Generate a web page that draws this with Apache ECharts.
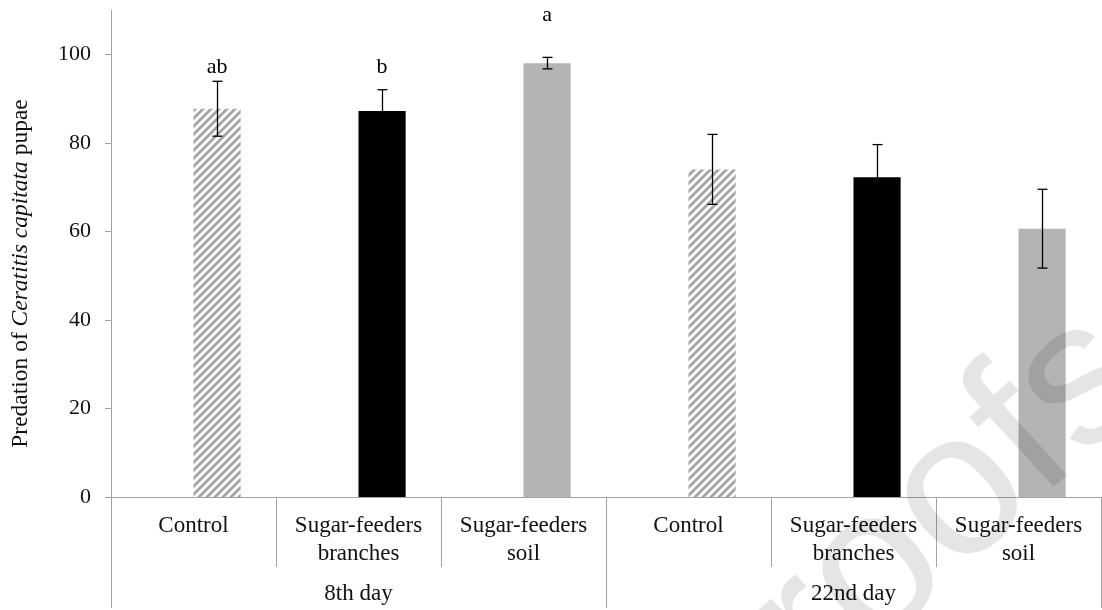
<!DOCTYPE html>
<html>
<head>
<meta charset="utf-8">
<script src="https://cdn.jsdelivr.net/npm/echarts@6/dist/echarts.min.js"></script>
<style>
  html, body { margin: 0; padding: 0; background: #fff; }
  #chart { width: 1102px; height: 610px; }
</style>
</head>
<body>
<div id="chart"></div>
<script>
// Treatments on the lower axis, grouped by sampling day
const treatments = ['Control', 'Sugar-feeders branches', 'Sugar-feeders soil',
                    'Control', 'Sugar-feeders branches', 'Sugar-feeders soil'];
const days = ['8th day', '22nd day'];

// Mean predation (%) and standard error for each treatment
const predation = [87.7, 87.2, 98.0, 74.0, 72.2, 60.6];
const stdError  = [6.2, 4.8, 1.3, 7.9, 7.4, 8.9];

// Significance letters and the value level where each letter sits
const letters      = ['ab', 'b', 'a', '', '', ''];
const letterLevels = [94.6, 94.6, 106.3, null, null, null];

const yTicks = [0, 20, 40, 60, 80, 100];

const SERIF = '"Liberation Serif", "Times New Roman", serif';
const AXIS_GREY = '#a3a3a3';

// Diagonal hatch tile for the control bars
function hatchTile() {
  const c = document.createElement('canvas');
  c.width = 8; c.height = 8;
  const g = c.getContext('2d');
  g.fillStyle = '#ffffff';
  g.fillRect(0, 0, 8, 8);
  g.strokeStyle = '#a4a4a4';
  g.lineWidth = 2.8;
  g.beginPath();
  g.moveTo(-2, 10); g.lineTo(10, -2);
  g.moveTo(-3, 3);  g.lineTo(3, -3);
  g.moveTo(5, 11);  g.lineTo(11, 5);
  g.stroke();
  return c;
}
const hatch = { image: hatchTile(), repeat: 'repeat' };

function fillFor(name) {
  if (name === 'Control') return hatch;
  if (name === 'Sugar-feeders branches') return '#000000';
  return '#b4b4b4';
}

// bar sits in the right half of a two-slot cluster: offset = category width / 7
function barOffset(api) { return api.size([1, 0])[0] / 7; }

function renderErrorBar(params, api) {
  const i = api.value(0), m = api.value(1), e = api.value(2);
  const top = api.coord([i, m + e]);
  const bot = api.coord([i, m - e]);
  const x = Math.round(top[0] + barOffset(api)) + 0.5;
  const cap = 5;
  const st = { stroke: '#000', lineWidth: 1.3 };
  return {
    type: 'group',
    children: [
      { type: 'line', shape: { x1: x, y1: top[1], x2: x, y2: bot[1] }, style: st },
      { type: 'line', shape: { x1: x - cap, y1: top[1], x2: x + cap, y2: top[1] }, style: st },
      { type: 'line', shape: { x1: x - cap, y1: bot[1], x2: x + cap, y2: bot[1] }, style: st }
    ]
  };
}

function renderLetter(params, api) {
  const i = api.value(0), lvl = api.value(1);
  const p = api.coord([i, lvl]);
  return {
    type: 'text',
    x: p[0] + barOffset(api),
    y: p[1],
    style: {
      text: letters[params.dataIndex],
      font: '22px ' + SERIF,
      fill: '#000',
      align: 'center',
      verticalAlign: 'bottom'
    }
  };
}

const chart = echarts.init(document.getElementById('chart'), null, { renderer: 'canvas' });

chart.setOption({
  animation: false,
  backgroundColor: '#fff',
  grid: { left: 111, right: 1, top: 10, bottom: 113 },
  xAxis: [
    {
      type: 'category',
      data: treatments,
      position: 'bottom',
      axisLine: { show: true, lineStyle: { color: AXIS_GREY, width: 1 } },
      axisTick: { show: true, interval: 0, alignWithLabel: false, length: 70,
                  lineStyle: { color: AXIS_GREY, width: 1 } },
      axisLabel: {
        interval: 0,
        margin: 15,
        fontFamily: SERIF,
        fontSize: 23,
        lineHeight: 28,
        color: '#111',
        formatter: v => v.replace(' ', '\n')
      },
      splitLine: { show: false }
    },
    {
      type: 'category',
      data: days,
      position: 'bottom',
      axisLine: { show: false },
      axisTick: { show: true, interval: 0, alignWithLabel: false, length: 111,
                  lineStyle: { color: AXIS_GREY, width: 1 } },
      axisLabel: {
        interval: 0,
        margin: 85,
        fontFamily: SERIF,
        fontSize: 23,
        color: '#111'
      },
      splitLine: { show: false }
    }
  ],
  yAxis: {
    type: 'value',
    min: 0,
    max: 110,
    interval: 20,
    name: 'Predation of {i|Ceratitis capitata} pupae',
    nameLocation: 'middle',
    nameRotate: 90,
    nameGap: 78,
    nameTextStyle: {
      fontFamily: SERIF,
      fontSize: 23.5,
      color: '#111',
      padding: [0, 40, 0, 0],
      rich: { i: { fontFamily: SERIF, fontSize: 23.5, fontStyle: 'italic', color: '#111' } }
    },
    axisLine: { show: true, lineStyle: { color: AXIS_GREY } },
    axisTick: { show: true, length: 6, customValues: yTicks, lineStyle: { color: AXIS_GREY } },
    axisLabel: {
      customValues: yTicks,
      margin: 20,
      fontFamily: SERIF,
      fontSize: 22,
      color: '#111',
      formatter: v => (v > 100 ? '' : String(v))
    },
    splitLine: { show: false }
  },
  series: [
    {
      // empty left slot of each two-bar cluster
      type: 'bar',
      xAxisIndex: 0,
      data: treatments.map(() => null),
      barWidth: '28.57%',
      barGap: '0%',
      silent: true
    },
    {
      type: 'bar',
      xAxisIndex: 0,
      data: predation.map((v, i) => ({ value: v, itemStyle: { color: fillFor(treatments[i]) } })),
      barWidth: '28.57%',
      barGap: '0%'
    },
    {
      type: 'custom',
      xAxisIndex: 0,
      data: predation.map((v, i) => [i, v, stdError[i]]),
      encode: { x: 0, y: 1 },
      renderItem: renderErrorBar,
      z: 5
    },
    {
      type: 'custom',
      xAxisIndex: 0,
      data: letterLevels.map((v, i) => [i, v]).filter(d => d[1] !== null),
      encode: { x: 0, y: 1 },
      renderItem: renderLetter,
      z: 6
    }
  ],
  graphic: [
    {
      type: 'text',
      silent: true,
      z: 100,
      x: 1120,
      y: 350,
      rotation: 0.74,
      style: {
        text: 'proofs',
        font: '205px "Liberation Sans", Arial, sans-serif',
        fill: 'rgba(0,0,0,0.1)',
        align: 'right',
        verticalAlign: 'middle'
      }
    }
  ]
});
</script>
</body>
</html>
